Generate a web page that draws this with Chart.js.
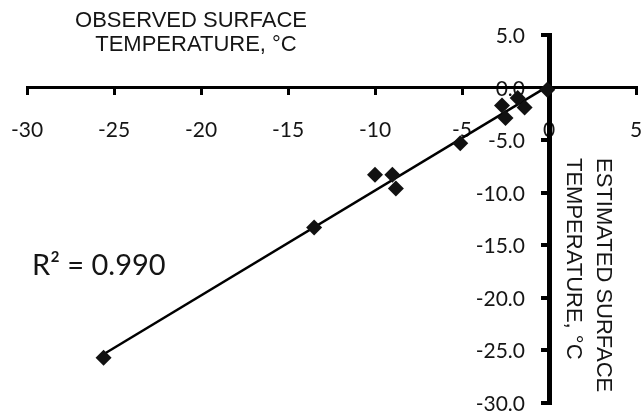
<!DOCTYPE html>
<html>
<head>
<meta charset="utf-8">
<script src="https://cdn.jsdelivr.net/npm/chart.js@4.4.0/dist/chart.umd.min.js"></script>
<style>
html, body { margin: 0; padding: 0; background: #fff; overflow: hidden; }
#wrap { width: 644px; height: 413px; }
</style>
</head>
<body>
<div id="wrap"><canvas id="myChart" width="644" height="413"></canvas></div>
<script>
// observed vs estimated surface temperature, degC
const observed = [-25.6, -13.5, -10.0, -9.0, -8.8, -5.1, -2.7, -1.8, -1.4, -2.5, -0.1]
const estimated = [-25.7, -13.3, -8.3, -8.3, -9.6, -5.3, -1.7, -1.0, -1.9, -2.9, -0.2]

const xTicks = [-30, -25, -20, -15, -10, -5, 0, 5]
const yTicks = [5, 0, -5, -10, -15, -20, -25, -30]

const xTitle = ['OBSERVED SURFACE', 'TEMPERATURE, °C']
const yTitle = ['ESTIMATED SURFACE', 'TEMPERATURE, °C']
const r2Label = 'R² = 0.990'

// least squares trendline over the data range
const n = observed.length
let sx = 0, sy = 0, sxx = 0, sxy = 0
for (let i = 0; i < n; i++) {
    sx += observed[i]
    sy += estimated[i]
    sxx += observed[i] * observed[i]
    sxy += observed[i] * estimated[i]
}
const slope = (n * sxy - sx * sy) / (n * sxx - sx * sx)
const intercept = (sy - slope * sx) / n
const xMin = Math.min(...observed)
const xMax = Math.max(...observed)
const trend = [
    { x: xMin, y: slope * xMin + intercept },
    { x: xMax, y: slope * xMax + intercept }
]

const points = observed.map((x, i) => ({ x: x, y: estimated[i] }))

const textColor = '#151515'
const tickFont = '21px Lato'

// tick labels go under the axis lines (the axes cross in the middle of the plot,
// chart.js would put the y labels right on the line)
const tickLabelPlugin = {
    id: 'tickLabels',
    beforeDraw(chart) {
        const ctx = chart.ctx
        const xs = chart.scales.x
        const ys = chart.scales.y
        const x0 = xs.getPixelForValue(0)
        const y0 = ys.getPixelForValue(0)
        ctx.save()
        ctx.fillStyle = textColor
        ctx.font = tickFont
        ctx.textBaseline = 'alphabetic'

        ctx.textAlign = 'center'
        xTicks.forEach(v => {
            ctx.fillText(v.toString(), xs.getPixelForValue(v), y0 + 49)
        })

        ctx.textAlign = 'right'
        yTicks.forEach(v => {
            ctx.fillText(v.toFixed(1), x0 - 24, ys.getPixelForValue(v) + 8)
        })
        ctx.restore()
    }
}

// axis titles and R2 drawn as free text like in the original figure
const textPlugin = {
    id: 'textPlugin',
    afterDraw(chart) {
        const ctx = chart.ctx
        ctx.save()
        ctx.fillStyle = textColor
        ctx.font = '22px "Liberation Sans"'
        ctx.textAlign = 'center'
        ctx.textBaseline = 'alphabetic'
        ctx.fillText(xTitle[0], 191, 27)
        ctx.fillText(xTitle[1], 196, 51)

        ctx.font = '29px Lato'
        ctx.textAlign = 'left'
        ctx.fillText(r2Label, 32, 275)

        ctx.font = '22px "Liberation Sans"'
        ctx.translate(597, 158)
        ctx.rotate(Math.PI / 2)
        ctx.fillText(yTitle[0], 0, 0)
        ctx.fillText(yTitle[1], 0, 30)
        ctx.restore()
    }
}

const config = {
    data: {
        datasets: [
            {
                type: 'scatter',
                data: points,
                pointStyle: 'rectRot',
                pointRadius: 8,
                backgroundColor: '#111',
                borderColor: '#111',
                borderWidth: 0
            },
            {
                type: 'line',
                data: trend,
                borderColor: '#000',
                borderWidth: 2.5,
                pointRadius: 0,
                fill: false
            }
        ]
    },
    options: {
        responsive: false,
        animation: false,
        layout: { padding: { left: 27, right: 2, top: 35, bottom: 10 } },
        plugins: {
            legend: { display: false },
            tooltip: { enabled: false }
        },
        scales: {
            x: {
                type: 'linear',
                min: -30,
                max: 5,
                position: { y: 0 },
                afterBuildTicks: s => { s.ticks = xTicks.map(v => ({ value: v })) },
                ticks: { display: false },
                grid: { drawOnChartArea: false, drawTicks: true, tickLength: 6, color: '#000', lineWidth: 3 },
                border: { display: true, color: '#000', width: 3 }
            },
            y: {
                type: 'linear',
                min: -30,
                max: 5,
                position: { x: 0 },
                afterBuildTicks: s => { s.ticks = yTicks.map(v => ({ value: v })) },
                ticks: { display: false },
                grid: { drawOnChartArea: false, drawTicks: true, tickLength: 6, color: '#000', lineWidth: 4 },
                border: { display: true, color: '#000', width: 5 }
            }
        }
    },
    plugins: [tickLabelPlugin, textPlugin]
}

const myChart = new Chart(document.getElementById('myChart'), config)
</script>
</body>
</html>
